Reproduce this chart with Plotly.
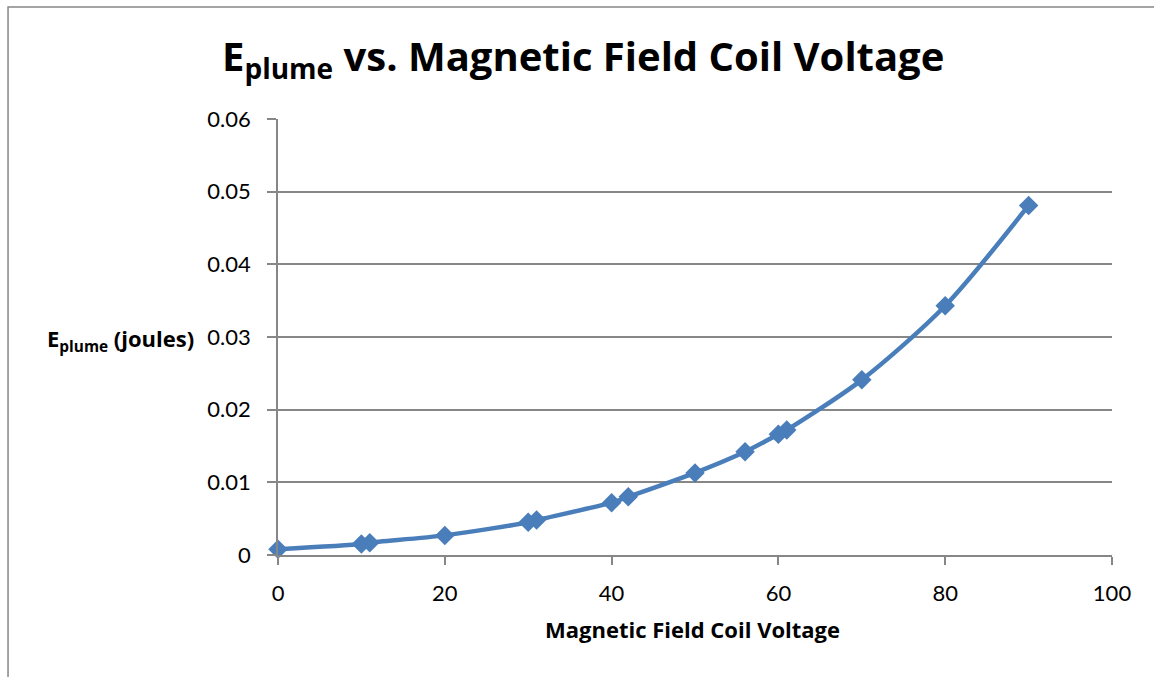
import plotly.graph_objects as go

# Plume energy measured at each magnetic field coil voltage
coil_voltage = [0, 10, 11, 20, 30, 31, 40, 42, 50, 56, 60, 61, 70, 80, 90]
plume_energy = [0.0008, 0.0015, 0.0017, 0.0027, 0.0045, 0.0048, 0.0072, 0.0080,
                0.0113, 0.0142, 0.0166, 0.0172, 0.0241, 0.0343, 0.0481]

x_ticks = [0, 20, 40, 60, 80, 100]
y_ticks = [0, 0.01, 0.02, 0.03, 0.04, 0.05, 0.06]
y_tick_text = ["0", "0.01", "0.02", "0.03", "0.04", "0.05", "0.06"]

TICK_FONT = "Lato, Carlito, Calibri, sans-serif"
BOLD_FONT = "'Open Sans', Carlito, Calibri, sans-serif"
BLUE = "#4a7ebb"
GRID = "#878787"

fig = go.Figure()
fig.add_trace(go.Scatter(
    x=coil_voltage, y=plume_energy,
    mode="lines+markers",
    line=dict(color=BLUE, width=4.5, shape="spline", smoothing=0.8),
    marker=dict(symbol="diamond", size=15, color=BLUE),
    cliponaxis=False,
    showlegend=False,
))

fig.update_layout(
    width=1154, height=677,
    margin=dict(l=278, r=42, t=119, b=122),
    paper_bgcolor="white", plot_bgcolor="white",
    font=dict(family=TICK_FONT, color="black"),
    xaxis=dict(
        range=[0, 100], tickvals=x_ticks, showgrid=False, zeroline=False,
        showline=True, linecolor=GRID, linewidth=1.5,
        ticks="outside", ticklen=8, tickcolor=GRID, tickwidth=1.5,
        tickfont=dict(size=22, family=TICK_FONT), ticklabelstandoff=10,
    ),
    yaxis=dict(
        range=[0, 0.06], tickvals=y_ticks, ticktext=y_tick_text,
        showgrid=True, gridcolor=GRID, gridwidth=1.5, zeroline=False,
        showline=True, linecolor=GRID, linewidth=1.5,
        ticks="outside", ticklen=9, tickcolor=GRID, tickwidth=1.5,
        tickfont=dict(size=22, family=TICK_FONT), ticklabelstandoff=12,
    ),
    annotations=[
        dict(text="<b>E<sub>plume</sub> vs. Magnetic Field Coil Voltage</b>",
             xref="paper", yref="paper", x=0.3657, y=1.14,
             xanchor="center", yanchor="middle", showarrow=False,
             font=dict(size=40, family=BOLD_FONT, color="black")),
        dict(text="<b>Magnetic Field Coil Voltage</b>",
             xref="paper", yref="paper", x=0.4976, y=-0.1697,
             xanchor="center", yanchor="middle", showarrow=False,
             font=dict(size=22, family=BOLD_FONT, color="black")),
        dict(text="<b>E<sub>plume</sub> (joules)</b>",
             xref="paper", yref="paper", x=-0.0983, y=0.493,
             xanchor="right", yanchor="middle", showarrow=False,
             font=dict(size=22, family=BOLD_FONT, color="black")),
    ],
    shapes=[
        dict(type="rect", xref="paper", yref="paper",
             x0=-0.3237, x1=1.0576, y0=-0.31, y1=1.2569,
             line=dict(color=GRID, width=1.5), layer="below"),
    ],
)

fig.write_html("out.html")
